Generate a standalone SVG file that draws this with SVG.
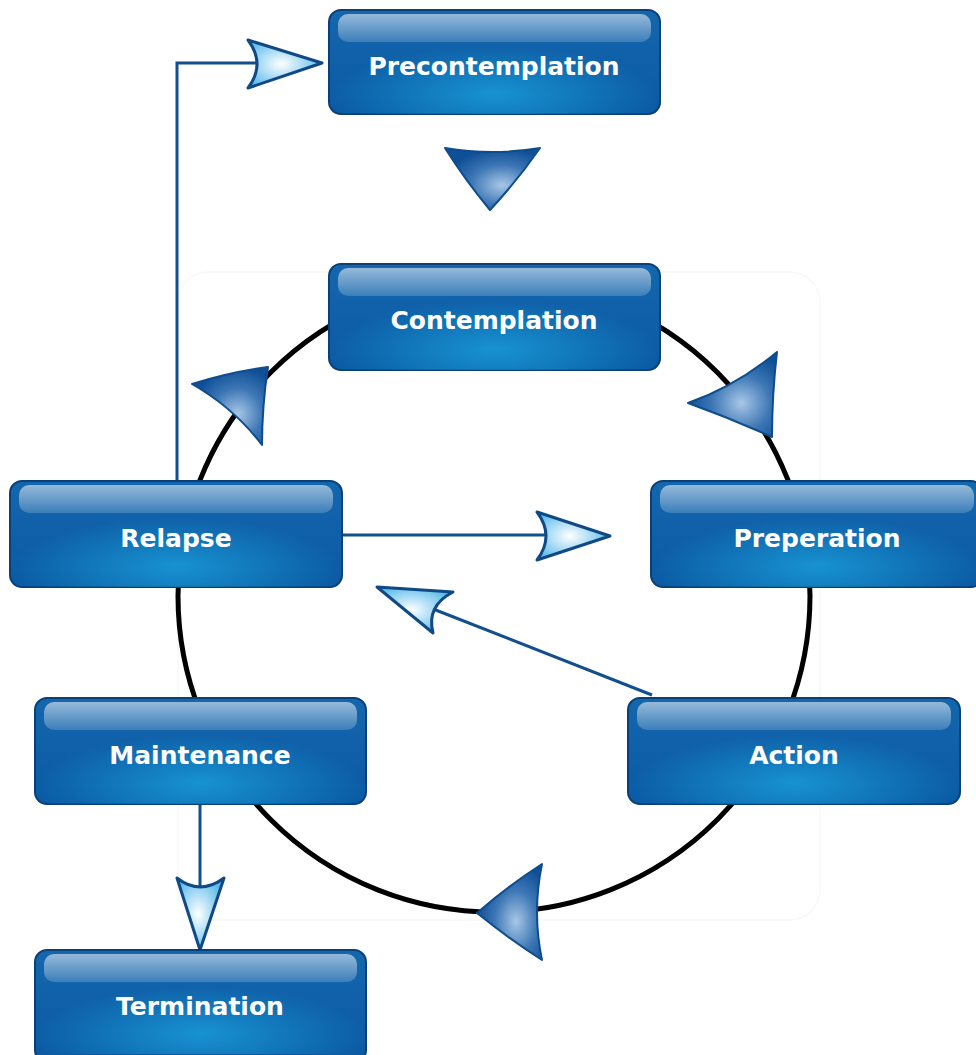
<svg xmlns="http://www.w3.org/2000/svg" width="976" height="1055" viewBox="0 0 976 1055">
<style>
.box{fill:url(#boxGrad);stroke:#0a4078;stroke-width:2}
.glow{fill:url(#glowGrad)}
.gloss{fill:url(#glossGrad)}
.lbl{font-family:"DejaVu Sans","Liberation Sans",sans-serif;font-weight:bold;font-size:25px;fill:#ffffff;text-anchor:middle}
.conn{fill:none;stroke:#134f8c;stroke-width:3}
.lhead{fill:url(#lightHead);stroke:#0f4a85;stroke-width:3;stroke-linejoin:round}
.dhead{fill:url(#darkHead);stroke:#0e4c8e;stroke-width:2;stroke-linejoin:round}
</style>
<defs>
<linearGradient id="boxGrad" x1="0" y1="0" x2="0" y2="1">
<stop offset="0" stop-color="#1466ad"/>
<stop offset="1" stop-color="#0a5aa3"/>
</linearGradient>
<radialGradient id="glowGrad" cx="0.5" cy="0.85" r="0.5" fx="0.5" fy="0.8">
<stop offset="0" stop-color="#1aa0dc" stop-opacity="0.8"/>
<stop offset="1" stop-color="#1aa0dc" stop-opacity="0"/>
</radialGradient>
<linearGradient id="glossGrad" x1="0" y1="0" x2="0" y2="1">
<stop offset="0" stop-color="#ffffff" stop-opacity="0.55"/>
<stop offset="1" stop-color="#ffffff" stop-opacity="0.18"/>
</linearGradient>
<radialGradient id="lightHead" cx="0.45" cy="0.5" r="0.6">
<stop offset="0" stop-color="#ffffff"/>
<stop offset="1" stop-color="#4fb6ea"/>
</radialGradient>
<radialGradient id="darkHead" cx="0.6" cy="0.6" r="0.6">
<stop offset="0" stop-color="#a8c7e6"/>
<stop offset="0.55" stop-color="#3c76b5"/>
<stop offset="1" stop-color="#0f4f96"/>
</radialGradient>
</defs>
<rect x="178" y="272" width="642" height="648" rx="30" fill="none" stroke="#f8f8f8" stroke-width="1.5"/>
<circle cx="494" cy="596" r="316" fill="none" stroke="#000000" stroke-width="5"/>
<g id="connectors">
<path class="conn" d="M177,481 V63 H262"/>
<path class="lhead" d="M322,63 L248,40 Q266,64 248,88 Z"/>
<path class="conn" d="M343,535 H555"/>
<path class="lhead" d="M610,536 L537,512 Q555,536 537,560 Z"/>
<path class="conn" d="M652,695 L428,607"/>
<path class="lhead" d="M377,587 L453,592 Q426,606 433,633 Z"/>
<path class="conn" d="M200,804 V895"/>
<path class="lhead" d="M200,950 L177,878 Q200,896 224,878 Z"/>
<path class="dhead" d="M490,210 Q465,180 445,148 Q492,156 540,148 Q518,180 490,210 Z"/>
<path class="dhead" d="M268,367 Q262,406 262,445 Q234,408 192,384 Q230,372 268,367 Z"/>
<path class="dhead" d="M772,437 Q730,418 688,403 Q736,386 777,352 Q772,395 772,437 Z"/>
<path class="dhead" d="M477,913 Q508,886 542,864 Q532,912 542,960 Q508,938 477,913 Z"/>
</g>
<g id="precontemplation">
<rect class="box" x="329" y="10" width="331" height="104" rx="12"/>
<rect class="glow" x="329" y="10" width="331" height="104" rx="12"/>
<rect class="gloss" x="338" y="14" width="313" height="28" rx="10"/>
<text class="lbl" x="494" y="75">Precontemplation</text>
</g>
<g id="contemplation">
<rect class="box" x="329" y="264" width="331" height="106" rx="12"/>
<rect class="glow" x="329" y="264" width="331" height="106" rx="12"/>
<rect class="gloss" x="338" y="268" width="313" height="28" rx="10"/>
<text class="lbl" x="494" y="329">Contemplation</text>
</g>
<g id="relapse">
<rect class="box" x="10" y="481" width="332" height="106" rx="12"/>
<rect class="glow" x="10" y="481" width="332" height="106" rx="12"/>
<rect class="gloss" x="19" y="485" width="314" height="28" rx="10"/>
<text class="lbl" x="176" y="547">Relapse</text>
</g>
<g id="preperation">
<rect class="box" x="651" y="481" width="332" height="106" rx="12"/>
<rect class="glow" x="651" y="481" width="332" height="106" rx="12"/>
<rect class="gloss" x="660" y="485" width="314" height="28" rx="10"/>
<text class="lbl" x="817" y="547">Preperation</text>
</g>
<g id="maintenance">
<rect class="box" x="35" y="698" width="331" height="106" rx="12"/>
<rect class="glow" x="35" y="698" width="331" height="106" rx="12"/>
<rect class="gloss" x="44" y="702" width="313" height="28" rx="10"/>
<text class="lbl" x="200" y="764">Maintenance</text>
</g>
<g id="action">
<rect class="box" x="628" y="698" width="332" height="106" rx="12"/>
<rect class="glow" x="628" y="698" width="332" height="106" rx="12"/>
<rect class="gloss" x="637" y="702" width="314" height="28" rx="10"/>
<text class="lbl" x="794" y="764">Action</text>
</g>
<g id="termination">
<rect class="box" x="35" y="950" width="331" height="112" rx="12"/>
<rect class="glow" x="35" y="950" width="331" height="104" rx="12"/>
<rect class="gloss" x="44" y="954" width="313" height="28" rx="10"/>
<text class="lbl" x="200" y="1015">Termination</text>
</g>
</svg>
